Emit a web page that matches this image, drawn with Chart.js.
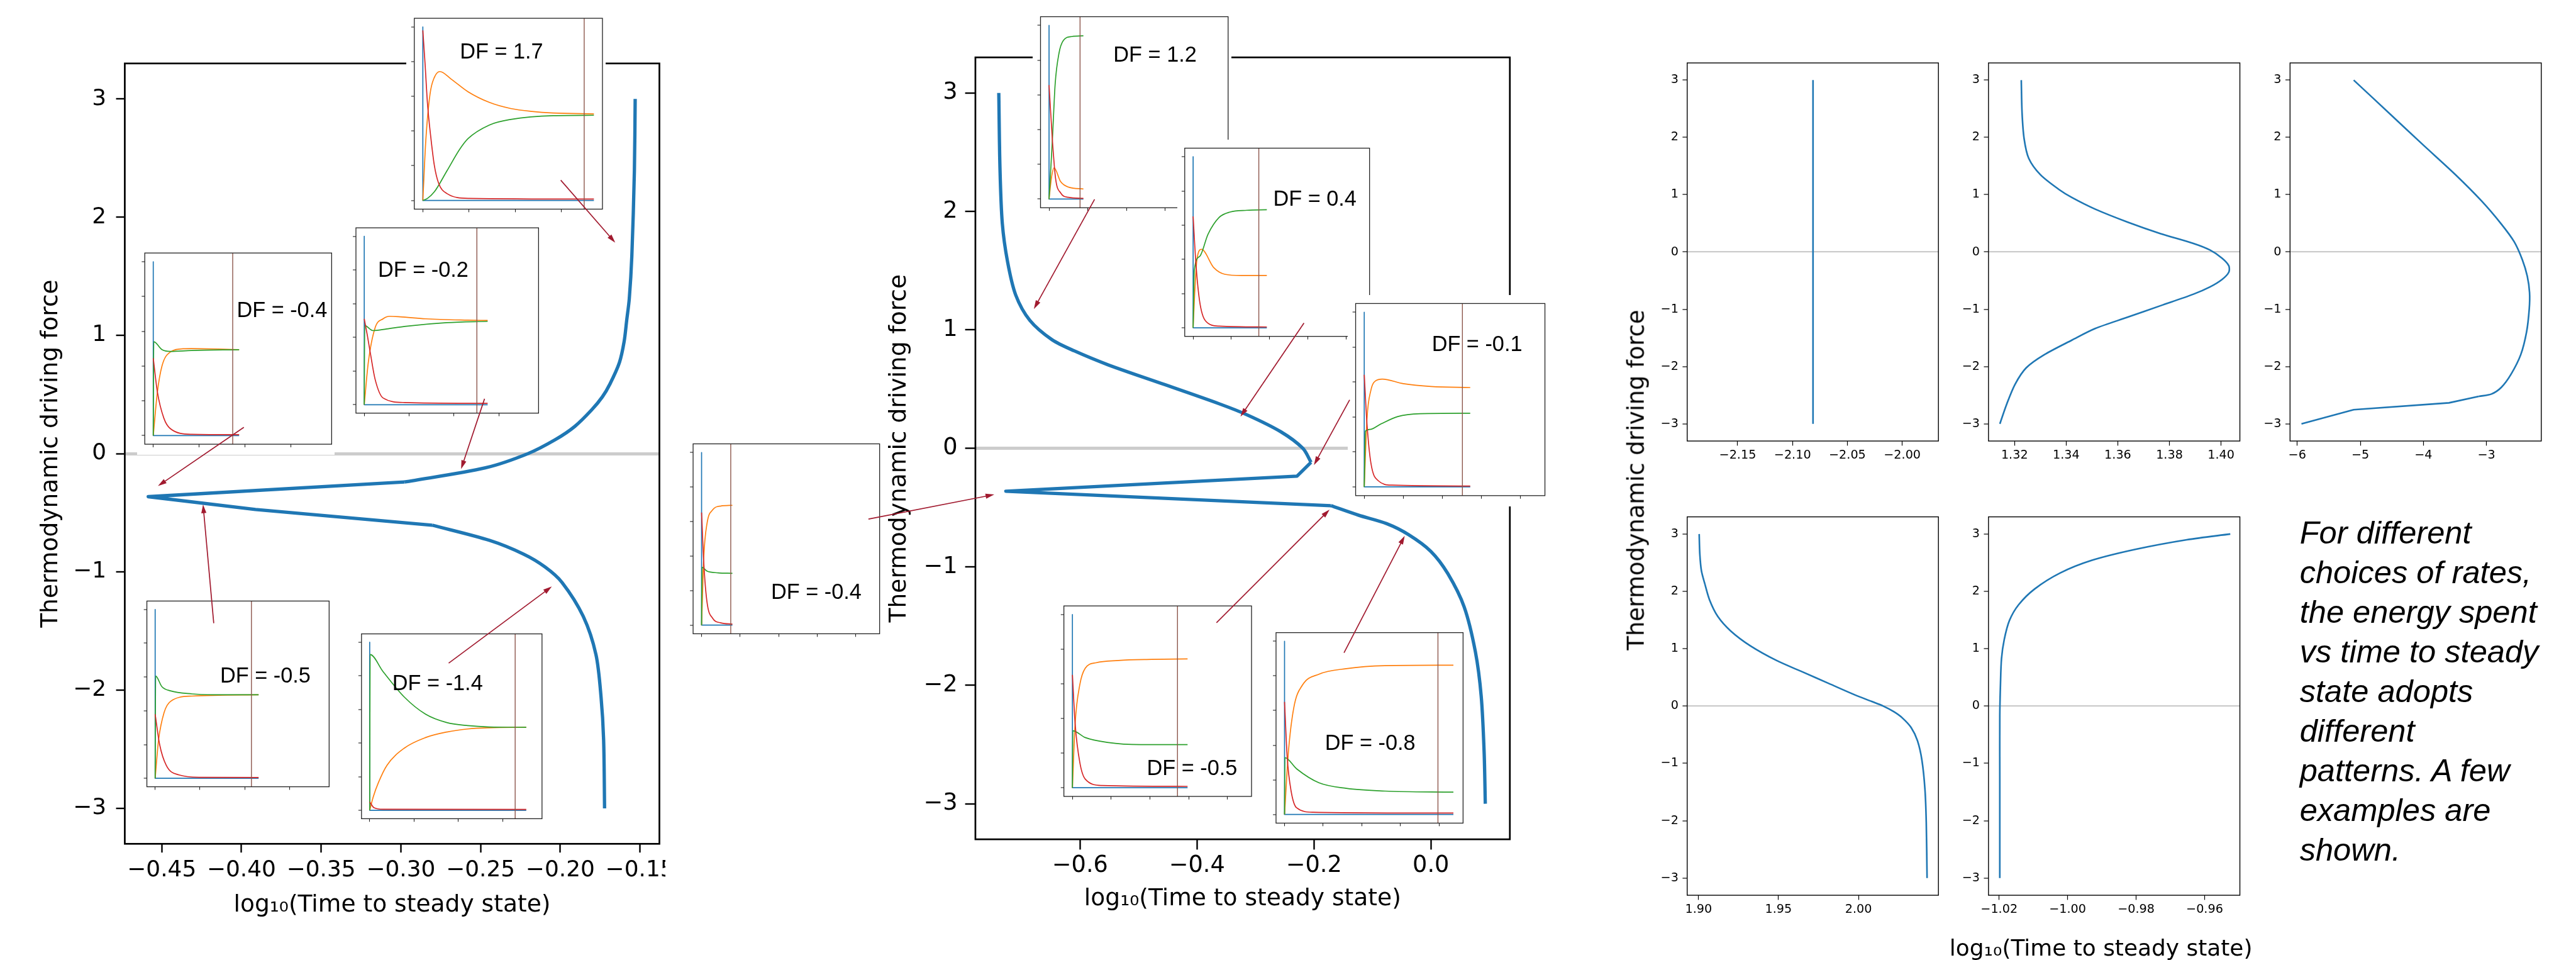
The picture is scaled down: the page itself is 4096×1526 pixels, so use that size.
<!DOCTYPE html>
<html lang="en">
<head>
<meta charset="UTF-8">
<title>Thermodynamic driving force vs time to steady state</title>
<script src="https://cdn.jsdelivr.net/npm/chart.js@4.4.1/dist/chart.umd.min.js"></script>
<style>
  html, body { margin: 0; padding: 0; background: #fff; }
  #page { position: relative; width: 4096px; height: 1526px; overflow: hidden; background: #fff; }
  #page canvas { position: absolute; }
  .txt { position: absolute; white-space: nowrap; color: #000; line-height: 1; }
  .df { font-family: 'Liberation Sans', Arial, sans-serif; }
  .mpl { font-family: 'DejaVu Sans', sans-serif; }
  #note { position: absolute; font-family: 'Liberation Sans', Arial, sans-serif; font-style: italic; color: #000; white-space: nowrap; }
</style>
</head>
<body>
<div id="page"></div>
<script>
// ---------------- data ----------------
const dfTicks = [-3, -2, -1, 0, 1, 2, 3];

// left big panel
const xTicksA = [-0.45, -0.40, -0.35, -0.30, -0.25, -0.20, -0.15];
const curveAUpper = [[-0.1530, 3.0], [-0.1535, 2.39], [-0.1551, 1.67], [-0.1567, 1.31], [-0.1583, 1.13], [-0.1599, 0.95], [-0.1629, 0.77], [-0.1688, 0.59], [-0.1736, 0.48], [-0.1803, 0.37], [-0.1909, 0.23], [-0.2029, 0.12], [-0.2203, 0.0], [-0.2470, -0.12], [-0.2977, -0.24]];
const curveATip = [[-0.2977, -0.24], [-0.4585, -0.364], [-0.3912, -0.472], [-0.2804, -0.605]];
const curveALower = [[-0.2804, -0.605], [-0.2443, -0.734], [-0.2230, -0.850], [-0.2096, -0.958], [-0.1989, -1.089], [-0.1856, -1.376], [-0.1776, -1.700], [-0.1744, -2.060], [-0.1728, -2.420], [-0.1722, -3.0]];
// arrows: tail x, tail y, head x, head y (data units of the panel)
const arrowsA = [[-0.1997, 2.313, -0.1655, 1.784], [-0.2475, 0.464, -0.2622, -0.130], [-0.3985, 0.223, -0.4524, -0.274], [-0.4174, -1.434, -0.4241, -0.430], [-0.2700, -1.772, -0.2053, -1.124]];

// middle big panel
const xTicksB = [-0.6, -0.4, -0.2, 0.0];
const curveBUpper = [[-0.739, 3.0], [-0.737, 2.37], [-0.733, 1.90], [-0.724, 1.575], [-0.710, 1.293], [-0.686, 1.081], [-0.648, 0.917], [-0.610, 0.823], [-0.552, 0.705], [-0.457, 0.541], [-0.362, 0.376], [-0.314, 0.282], [-0.257, 0.141], [-0.219, 0.0], [-0.205, -0.118]];
const curveBTip = [[-0.205, -0.118], [-0.229, -0.235], [-0.727, -0.362], [-0.171, -0.484]];
const curveBLower = [[-0.171, -0.484], [-0.124, -0.564], [-0.076, -0.635], [-0.038, -0.729], [0.0, -0.870], [0.029, -1.058], [0.057, -1.340], [0.076, -1.716], [0.086, -2.092], [0.091, -2.563], [0.093, -3.0]];
const arrowsB = [[-0.5752, 2.102, -0.679, 1.176], [-0.2171, 1.058, -0.3257, 0.268], [-0.139, 0.409, -0.200, -0.141], [-0.9619, -0.597, -0.7467, -0.390], [-0.3667, -1.472, -0.1733, -0.517], [-0.1486, -1.726, -0.0448, -0.738]];

// small multiples on the right
const xTicksC1 = [-2.15, -2.10, -2.05, -2.00];
const curveC1 = [[-2.0813, -3.0], [-2.0813, 3.0]];
const xTicksC2 = [1.32, 1.34, 1.36, 1.38, 1.40];
const curveC2 = [[1.3226, 3.0], [1.3229, 2.434], [1.3237, 1.977], [1.3255, 1.634], [1.3300, 1.349], [1.3372, 1.091], [1.3423, 0.949], [1.3512, 0.749], [1.3639, 0.52], [1.3766, 0.32], [1.3893, 0.149], [1.3957, 0.034], [1.4004, -0.109], [1.4030, -0.24], [1.4030, -0.354], [1.4004, -0.48], [1.3957, -0.611], [1.3893, -0.737], [1.3766, -0.937], [1.3639, -1.137], [1.3512, -1.337], [1.3423, -1.537], [1.3315, -1.794], [1.3245, -2.023], [1.3202, -2.309], [1.3170, -2.651], [1.3143, -3.0]];
const xTicksC3 = [-6, -5, -4, -3];
const curveC3 = [[-5.105, 3.0], [-4.526, 2.406], [-4.009, 1.874], [-3.491, 1.349], [-3.078, 0.891], [-2.767, 0.491], [-2.560, 0.177], [-2.431, -0.137], [-2.353, -0.423], [-2.317, -0.709], [-2.322, -0.994], [-2.364, -1.394], [-2.457, -1.794], [-2.612, -2.137], [-2.767, -2.366], [-2.922, -2.48], [-3.119, -2.52]];
const curveC3Tail = [[-3.119, -2.52], [-3.595, -2.634], [-5.105, -2.754], [-5.933, -3.0]];
const xTicksC4 = [1.90, 1.95, 2.00];
const curveC4 = [[1.9004, 3.0], [1.9008, 2.65], [1.9018, 2.36], [1.9039, 2.135], [1.9069, 1.85], [1.9120, 1.564], [1.9202, 1.307], [1.9324, 1.05], [1.9488, 0.794], [1.9651, 0.594], [1.9814, 0.394], [1.9978, 0.194], [2.0083, 0.08], [2.0155, 0.0], [2.0222, -0.10], [2.0274, -0.206], [2.0330, -0.377], [2.0369, -0.605], [2.0397, -0.948], [2.0416, -1.462], [2.0424, -2.033], [2.0429, -3.0]];
const xTicksC5 = [-1.02, -1.00, -0.98, -0.96];
const curveC5 = [[-1.0198, -3.0], [-1.0198, -1.27], [-1.0198, -0.17], [-1.0196, 0.384], [-1.0193, 0.827], [-1.0185, 1.16], [-1.0170, 1.49], [-1.0143, 1.767], [-1.0096, 2.043], [-1.0022, 2.32], [-0.9930, 2.54], [-0.9800, 2.735], [-0.9652, 2.90], [-0.9525, 3.0]];

// inset time courses (x: time, y: fraction); blue falls from 1 to 0 at t = 0
const insetXTicksA = [0, 1, 2, 3];
const insetXTicksB = [0, 1, 2, 3, 4];
const insetYTicks = [0, 0.2, 0.4, 0.6, 0.8, 1.0];
const dA17 = { end: 3.7, brown: 3.49,
  red: [[0, 0.98], [0.05, 0.78], [0.1, 0.56], [0.17, 0.37], [0.25, 0.2], [0.34, 0.1], [0.52, 0.04], [1.0, 0.012], [3.7, 0.008]],
  orange: [[0, 0], [0.064, 0.345], [0.156, 0.614], [0.25, 0.71], [0.37, 0.743], [0.61, 0.70], [0.98, 0.626], [1.44, 0.565], [1.9, 0.53], [2.36, 0.513], [2.82, 0.504], [3.7, 0.499]],
  green: [[0, 0], [0.1, 0.012], [0.25, 0.05], [0.52, 0.17], [0.8, 0.296], [0.98, 0.357], [1.44, 0.435], [1.9, 0.467], [2.82, 0.489], [3.7, 0.491]] };
const dA02 = { end: 2.75, brown: 2.51,
  red: [[0, 0.51], [0.07, 0.41], [0.14, 0.30], [0.24, 0.153], [0.42, 0.04], [0.9, 0.013], [2.75, 0.008]],
  orange: [[0, 0], [0.09, 0.25], [0.24, 0.455], [0.42, 0.51], [0.57, 0.525], [0.8, 0.522], [1.37, 0.51], [2.3, 0.502], [2.75, 0.50]],
  green: [[0, 0], [0.01, 0.47], [0.19, 0.44], [0.5, 0.45], [0.9, 0.465], [1.84, 0.487], [2.75, 0.495]] };
const dA04 = { end: 1.87, brown: 1.73,
  red: [[0, 0.445], [0.09, 0.25], [0.23, 0.10], [0.37, 0.04], [0.83, 0.007], [1.87, 0.005]],
  orange: [[0, 0], [0.09, 0.25], [0.19, 0.40], [0.37, 0.48], [0.65, 0.499], [0.83, 0.50], [1.87, 0.494]],
  green: [[0, 0], [0.01, 0.54], [0.19, 0.494], [0.37, 0.484], [0.83, 0.489], [1.87, 0.494]] };
const dA05 = { end: 2.31, brown: 2.15,
  red: [[0, 0.379], [0.1, 0.2], [0.25, 0.076], [0.53, 0.02], [1.0, 0.006], [2.31, 0.005]],
  orange: [[0, 0], [0.076, 0.227], [0.2, 0.39], [0.34, 0.455], [0.82, 0.487], [2.31, 0.495]],
  green: [[0, 0], [0.01, 0.606], [0.15, 0.543], [0.34, 0.518], [0.82, 0.5], [1.29, 0.495], [2.31, 0.495]] };
const dA14 = { end: 3.53, brown: 3.28,
  red: [[0, 0.05], [0.1, 0.015], [0.3, 0.006], [3.53, 0.005]],
  orange: [[0, 0], [0.08, 0.08], [0.2, 0.167], [0.39, 0.268], [0.78, 0.37], [1.26, 0.433], [1.74, 0.466], [2.21, 0.484], [2.69, 0.491], [3.53, 0.494]],
  green: [[0, 0], [0.01, 0.927], [0.3, 0.826], [0.78, 0.674], [1.26, 0.572], [1.74, 0.522], [2.21, 0.504], [2.69, 0.496], [3.53, 0.494]] };
const dB12 = { end: 0.886, brown: 0.8,
  red: [[0, 0.656], [0.086, 0.34], [0.17, 0.116], [0.3, 0.035], [0.5, 0.01], [0.886, 0.004]],
  orange: [[0, 0], [0.06, 0.12], [0.13, 0.18], [0.3, 0.1], [0.51, 0.068], [0.886, 0.058]],
  green: [[0, 0], [0.086, 0.34], [0.157, 0.66], [0.257, 0.84], [0.37, 0.913], [0.59, 0.936], [0.886, 0.94]] };
const dB04 = { end: 1.93, brown: 1.72,
  red: [[0, 0.651], [0.07, 0.384], [0.17, 0.156], [0.32, 0.042], [0.68, 0.01], [1.93, 0.005]],
  orange: [[0, 0], [0.04, 0.2], [0.1, 0.4], [0.22, 0.459], [0.54, 0.352], [0.83, 0.313], [1.26, 0.306], [1.93, 0.306]],
  green: [[0, 0], [0.03, 0.335], [0.17, 0.417], [0.39, 0.547], [0.68, 0.645], [0.97, 0.677], [1.41, 0.687], [1.93, 0.69]] };
const dB01 = { end: 2.71, brown: 2.51,
  red: [[0, 0.642], [0.07, 0.361], [0.17, 0.137], [0.36, 0.035], [0.71, 0.01], [2.71, 0.005]],
  orange: [[0, 0], [0.07, 0.39], [0.17, 0.553], [0.29, 0.607], [0.46, 0.617], [1.0, 0.591], [1.71, 0.575], [2.71, 0.569]],
  green: [[0, 0], [0.03, 0.319], [0.14, 0.329], [0.43, 0.361], [0.86, 0.403], [1.43, 0.419], [2.71, 0.422]] };
const dB04n = { end: 0.8, brown: 0.757,
  red: [[0, 0.652], [0.057, 0.361], [0.14, 0.135], [0.29, 0.039], [0.5, 0.013], [0.8, 0.006]],
  orange: [[0, 0], [0.057, 0.394], [0.14, 0.587], [0.29, 0.668], [0.5, 0.69], [0.8, 0.694]],
  green: [[0, 0], [0.01, 0.335], [0.14, 0.313], [0.43, 0.303], [0.8, 0.3]] };
const dB05n = { end: 2.97, brown: 2.71,
  red: [[0, 0.652], [0.07, 0.37], [0.19, 0.147], [0.33, 0.05], [0.76, 0.013], [2.97, 0.008]],
  orange: [[0, 0], [0.07, 0.37], [0.19, 0.594], [0.33, 0.69], [0.61, 0.722], [1.19, 0.735], [2.04, 0.741], [2.97, 0.744]],
  green: [[0, 0], [0.01, 0.329], [0.33, 0.29], [0.9, 0.262], [1.76, 0.249], [2.97, 0.249]] };
const dB08n = { end: 4.37, brown: 3.97,
  red: [[0, 0.65], [0.07, 0.328], [0.17, 0.135], [0.31, 0.039], [0.74, 0.013], [4.37, 0.008]],
  orange: [[0, 0], [0.1, 0.36], [0.24, 0.617], [0.46, 0.746], [0.89, 0.81], [1.6, 0.842], [2.6, 0.859], [4.37, 0.862]],
  green: [[0, 0], [0.01, 0.328], [0.31, 0.264], [0.89, 0.183], [1.6, 0.151], [2.6, 0.135], [4.37, 0.129]] };

const noteLines = ['For different', 'choices of rates,', 'the energy spent', 'vs time to steady', 'state adopts', 'different', 'patterns. A few', 'examples are', 'shown.'];

// ---------------- drawing ----------------
const S = 4096 / 5016;          // layout below is in reference pixels
const px = v => v * S;
const C = { blue: '#1f77b4', orange: '#ff7f0e', green: '#2ca02c', red: '#d62728', brown: '#8c564b', arrow: '#a11a2f', zero: '#cccccc' };
const page = document.getElementById('page');
const fmt = (v, d) => v.toFixed(d).replace('-', '\u2212');
const LOGT = 'log\u2081\u2080(Time to steady state)';
const DFT = 'Thermodynamic driving force';

const overlay = document.createElement('canvas');
overlay.width = 4096; overlay.height = 1526;
overlay.style.left = '0px'; overlay.style.top = '0px'; overlay.style.zIndex = 50;
page.appendChild(overlay);
const octx = overlay.getContext('2d');

function seg(pts, color, w, smooth) {
  return {
    data: pts.map(p => ({ x: p[0], y: p[1] })),
    showLine: true, fill: false, pointRadius: 0, pointHoverRadius: 0,
    borderColor: color, borderWidth: w, borderJoinStyle: 'round',
    tension: typeof smooth === 'number' ? smooth : 0,
    cubicInterpolationMode: smooth === 'mono' ? 'monotone' : 'default'
  };
}

function framePlugin(w, color) {
  return { id: 'frame', afterDatasetsDraw(chart) {
    const a = chart.chartArea, ctx = chart.ctx;
    ctx.save(); ctx.lineWidth = w; ctx.strokeStyle = color;
    ctx.strokeRect(a.left, a.top, a.right - a.left, a.bottom - a.top);
    ctx.restore();
  } };
}

function drawArrow(x1, y1, x2, y2) {
  const ang = Math.atan2(y2 - y1, x2 - x1), c = Math.cos(ang), s = Math.sin(ang);
  const L = px(17), hw = px(5);
  octx.beginPath(); octx.moveTo(x1, y1); octx.lineTo(x2 - L * 0.7 * c, y2 - L * 0.7 * s); octx.stroke();
  octx.beginPath(); octx.moveTo(x2, y2);
  octx.lineTo(x2 - L * c + hw * s, y2 - L * s - hw * c);
  octx.lineTo(x2 - L * c - hw * s, y2 - L * s + hw * c);
  octx.closePath(); octx.fill();
}

function arrowPlugin(list, ox, oy) {
  let done = false;
  return { id: 'arrows', afterDraw(chart) {
    if (done) return; done = true;
    const xs = chart.scales.x, ys = chart.scales.y;
    octx.save(); octx.strokeStyle = C.arrow; octx.fillStyle = C.arrow; octx.lineWidth = 1.7;
    list.forEach(a => drawArrow(ox + xs.getPixelForValue(a[0]), oy + ys.getPixelForValue(a[1]),
                                ox + xs.getPixelForValue(a[2]), oy + ys.getPixelForValue(a[3])));
    octx.restore();
  } };
}

// o.frame = plot area [x0, y0, x1, y1] in reference px
function chartBox(o) {
  const [x0, y0, x1, y1] = o.frame;
  const L = Math.round(px(x0 - o.yW - o.pad[3]));
  const T = Math.round(px(y0 - o.pad[0]));
  const W = Math.round(px(x1 + o.pad[1])) - L;
  const H = Math.round(px(y1 + o.xH + o.pad[2])) - T;
  const cv = document.createElement('canvas');
  cv.width = W; cv.height = H;
  cv.style.left = L + 'px'; cv.style.top = T + 'px'; cv.style.zIndex = o.z;
  if (o.bg) cv.style.background = o.bg;
  page.appendChild(cv);
  const padding = { left: px(x0 - o.yW) - L, top: px(y0) - T, right: L + W - px(x1), bottom: T + H - px(y1) - px(o.xH) };
  const tickFont = { family: "'DejaVu Sans', sans-serif", size: o.tickSize || 10 };
  const titleFont = { family: "'DejaVu Sans', sans-serif", size: o.titleSize || 10 };
  const title = t => t ? { display: true, text: t, color: '#000', font: titleFont, padding: 0 } : { display: false };
  const zeroW = o.zeroW || 0;
  const plugins = [framePlugin(o.frameW, o.frameColor || '#000')];
  if (o.arrows) plugins.push(arrowPlugin(o.arrows, L, T));
  new Chart(cv, {
    type: 'scatter',
    data: { datasets: o.sets },
    options: {
      responsive: false, animation: false, devicePixelRatio: 1, events: [],
      layout: { padding },
      plugins: { legend: { display: false }, tooltip: { enabled: false } },
      scales: {
        x: {
          type: 'linear', min: o.xr[0], max: o.xr[1],
          afterBuildTicks: s => { s.ticks = o.xTicks.map(v => ({ value: v })); },
          afterFit: s => { s.height = px(o.xH); s.paddingLeft = 0; s.paddingRight = 0; },
          border: { display: false },
          grid: { drawOnChartArea: false, tickLength: px(o.tickLen), tickWidth: o.tickW, tickColor: o.frameColor || '#000', color: o.frameColor || '#000' },
          ticks: { display: !!o.labels, autoSkip: false, maxRotation: 0, minRotation: 0, padding: px(o.xPad || 0), color: '#000', font: tickFont, callback: v => fmt(v, o.xDec) },
          title: title(o.xTitle)
        },
        y: {
          type: 'linear', min: o.yr[0], max: o.yr[1],
          afterBuildTicks: s => { s.ticks = o.yTicks.map(v => ({ value: v })); },
          afterFit: s => { s.width = px(o.yW); s.paddingTop = 0; s.paddingBottom = 0; },
          border: { display: false },
          grid: {
            drawOnChartArea: zeroW > 0,
            color: ctx => (ctx.tick && ctx.tick.value === 0) ? C.zero : 'rgba(0,0,0,0)',
            lineWidth: ctx => (ctx.tick && ctx.tick.value === 0) ? zeroW : 0,
            tickLength: px(o.tickLen), tickWidth: o.tickW, tickColor: o.frameColor || '#000'
          },
          ticks: { display: !!o.labels, autoSkip: false, padding: px(o.yPad || 0), color: '#000', font: tickFont, callback: v => fmt(v, 0) },
          title: title(o.yTitle)
        }
      }
    },
    plugins
  });
}

function mainPanel(frame, yW, xH, xr, xTicks, xDec, sets, arrows, tickSize, xPad, yPad, tickLen) {
  chartBox({ frame, yW, xH, pad: [10, 12, 0, 0], z: 1, xr, yr: [-3.3, 3.3], xTicks, yTicks: dfTicks, xDec,
    labels: true, tickSize, titleSize: 37.6, xPad, yPad, tickLen, tickW: 2.4, frameW: 2.7,
    zeroW: 5, xTitle: LOGT, yTitle: DFT, sets, arrows });
}

function smallPanel(frame, xr, xTicks, xDec, sets) {
  chartBox({ frame, yW: 60, xH: 45, pad: [6, 6, 0, 0], z: 1, xr, yr: [-3.3, 3.3], xTicks, yTicks: dfTicks, xDec,
    labels: true, tickSize: 19.2, xPad: 5.4, yPad: 8, tickLen: 9, tickW: 1.2, frameW: 1.4, zeroW: 2.2, sets });
}

function inset(frame, d, xr, xTicks, z) {
  const sets = [
    seg([[d.brown, -0.2], [d.brown, 1.2]], C.brown, 1.4, 0),
    seg(d.red, C.red, 1.7, 'mono'),
    seg(d.green, C.green, 1.7, 'mono'),
    seg(d.orange, C.orange, 1.7, 'mono'),
    seg([[0, 1], [0, 0], [d.end, 0]], C.blue, 1.7, 0)
  ];
  chartBox({ frame, yW: 15, xH: 21, pad: [16, 6, 0, 0], z, bg: '#fff', xr, yr: [-0.05, 1.05], xTicks, yTicks: insetYTicks,
    xDec: 0, labels: false, tickLen: 6, tickW: 1.1, frameW: 1.3, frameColor: '#222', sets });
}

function dfLabel(text, x, yc) {
  const size = px(42);
  const d = document.createElement('div');
  d.className = 'txt df'; d.textContent = text;
  d.style.fontSize = size + 'px'; d.style.left = px(x) + 'px'; d.style.top = (px(yc) - 0.49 * size) + 'px'; d.style.zIndex = 60;
  page.appendChild(d);
}

function centeredText(text, cx, cy, size, rot) {
  const d = document.createElement('div');
  d.className = 'txt mpl'; d.textContent = text;
  d.style.fontSize = size + 'px'; d.style.left = px(cx) + 'px'; d.style.top = px(cy) + 'px'; d.style.zIndex = 60;
  d.style.transform = 'translate(-50%, -50%)' + (rot ? ' rotate(' + rot + 'deg)' : '');
  page.appendChild(d);
}

// left panel
mainPanel([243, 123.5, 1284, 1642.6], 171, 148, [-0.4732, -0.1378], xTicksA, 2,
  [seg(curveAUpper, C.blue, 5.3, 0.3), seg(curveATip, C.blue, 5.3, 0), seg(curveALower, C.blue, 5.3, 0.3)],
  arrowsA, 35.9, 8, 19, 17);
inset([806.7, 35.6, 1173.1, 407.1], dA17, [-0.185, 3.885], insetXTicksA, 2);
inset([693.1, 443.5, 1048.7, 804.2], dA02, [-0.185, 3.885], insetXTicksA, 2);
inset([281.9, 492.5, 645.8, 864.7], dA04, [-0.185, 3.885], insetXTicksA, 2);
inset([286, 1170, 640.9, 1531.5], dA05, [-0.185, 3.885], insetXTicksA, 2);
inset([703.9, 1233.9, 1055.4, 1593.7], dA14, [-0.185, 3.885], insetXTicksA, 2);
dfLabel('DF = 1.7', 895.4, 99.5);
dfLabel('DF = -0.2', 736, 524);
dfLabel('DF = -0.4', 461, 602);
dfLabel('DF = -0.5', 428.6, 1313.5);
dfLabel('DF = -1.4', 764, 1328.4);

// middle panel
mainPanel([1899.3, 111.7, 2940, 1633.8], 175.9, 143.8, [-0.779, 0.135], xTicksB, 1,
  [seg(curveBUpper, C.blue, 5.3, 0.3), seg(curveBTip, C.blue, 5.3, 0), seg(curveBLower, C.blue, 5.3, 0.3)],
  arrowsB, 36.7, 5, 14.7, 20);
inset([2026.1, 32.5, 2391.4, 404.4], dB12, [-0.22, 4.62], insetXTicksB, 2);
inset([2306.9, 288.4, 2666.8, 654.8], dB04, [-0.22, 4.62], insetXTicksB, 3);
inset([2639.7, 590.8, 3008.3, 964.8], dB01, [-0.22, 4.62], insetXTicksB, 4);
inset([1349.6, 864, 1712.8, 1233.7], dB04n, [-0.22, 4.62], insetXTicksB, 2);
inset([2071.6, 1179.5, 2437, 1550.3], dB05n, [-0.22, 4.62], insetXTicksB, 2);
inset([2484.7, 1231.5, 2848.9, 1602.3], dB08n, [-0.22, 4.62], insetXTicksB, 2);
dfLabel('DF = 1.2', 2168, 105);
dfLabel('DF = 0.4', 2479.2, 385);
dfLabel('DF = -0.1', 2788, 669);
dfLabel('DF = -0.4', 1501.4, 1151);
dfLabel('DF = -0.5', 2233.2, 1494);
dfLabel('DF = -0.8', 2580, 1445);

// right small multiples
smallPanel([3285.3, 122.5, 3774.5, 858.5], [-2.196, -1.967], xTicksC1, 2, [seg(curveC1, C.blue, 2.6, 0)]);
smallPanel([3872, 122.5, 4361.5, 858.5], [1.3099, 1.4073], xTicksC2, 2, [seg(curveC2, C.blue, 2.6, 0.3)]);
smallPanel([4459.2, 122.5, 4948.4, 858.5], [-6.114, -2.131], xTicksC3, 0, [seg(curveC3, C.blue, 2.6, 0.3), seg(curveC3Tail, C.blue, 2.6, 0)]);
smallPanel([3285.3, 1006.1, 3774.5, 1742.7], [1.8929, 2.050], xTicksC4, 2, [seg(curveC4, C.blue, 2.6, 0.3)]);
smallPanel([3872, 1006.1, 4361.5, 1742.7], [-1.0231, -0.9497], xTicksC5, 2, [seg(curveC5, C.blue, 2.6, 0.3)]);
centeredText(DFT, 3186, 934, px(45), -90);
centeredText(LOGT, 4091, 1845.6, px(44), 0);

const note = document.createElement('div');
note.id = 'note';
note.innerHTML = noteLines.join('<br>');
note.style.fontSize = px(62) + 'px';
note.style.lineHeight = px(77.25) + 'px';
note.style.left = px(4478) + 'px';
note.style.top = '814.5px';
note.style.zIndex = 60;
page.appendChild(note);
</script>
</body>
</html>
